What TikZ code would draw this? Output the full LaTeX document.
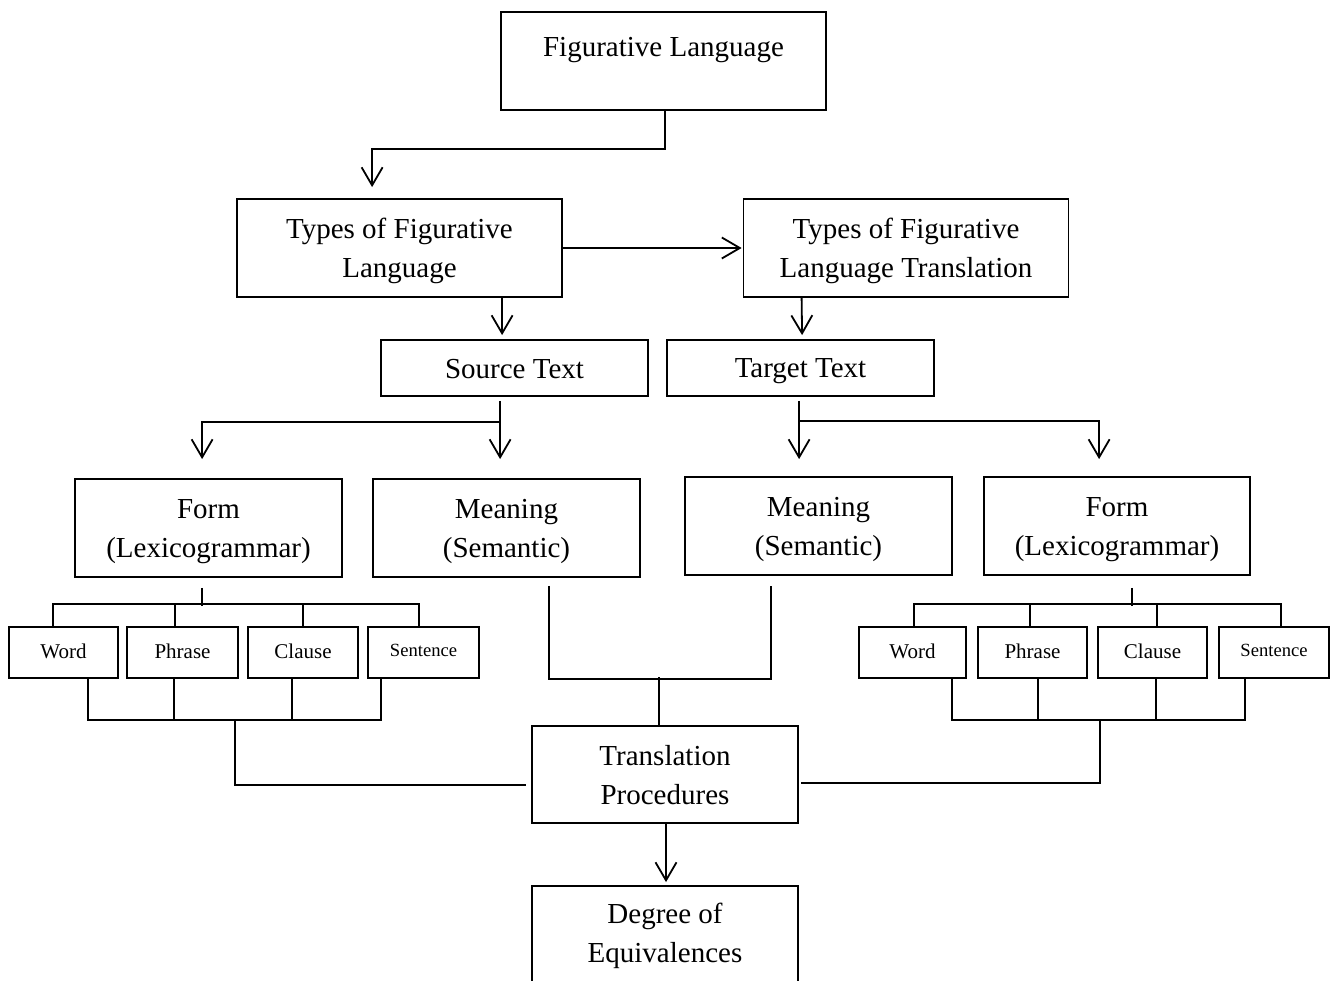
\documentclass[tikz,border=0pt]{standalone}
\usepackage{fontspec}
\setmainfont{Liberation Serif}
\usetikzlibrary{arrows.meta,calc}
\newcommand\bigtxt{\fontsize{29}{39}\selectfont}
\newcommand\smtxt{\fontsize{21}{25}\selectfont}
\newcommand\smmtxt{\fontsize{18.6}{22}\selectfont}
\tikzset{
  box/.style={draw, line width=1.8pt, inner sep=0pt},
  bigbox/.style={box, minimum width=325pt, minimum height=98pt},
  midbox/.style={box, minimum width=267pt, minimum height=98pt},
  stbox/.style={box, minimum width=267pt, minimum height=56pt},
  smbox/.style={box, minimum height=51pt},
  txt/.style={inner sep=0pt, align=center, font=\bigtxt},
  stxt/.style={inner sep=0pt, align=center, font=\smtxt},
  sstxt/.style={inner sep=0pt, align=center, font=\smmtxt},
  conn/.style={line width=1.8pt},
  arr/.style={conn, -{Straight Barb[length=18pt,width=21pt]}}
}
\begin{document}
\begin{tikzpicture}[x=1pt,y=-1pt]
\useasboundingbox (0,0) rectangle (1338,981);
\clip (0,0) rectangle (1338,981);
% boxes
\node[bigbox] (fl) at (663.5,61) {};
\node[txt] (flt) at (663.5,50) {Figurative Language};
\node[bigbox, label={[txt,name=tflx,yshift=-2.5pt]center:Types of Figurative\\Language}] (tfl) at (399.5,248) {};
\node[bigbox, label={[txt,name=tfltx,yshift=-2.5pt]center:Types of Figurative\\Language Translation}] (tflt) at (906,248) {};
\node[stbox, label={[txt,name=stx,yshift=-1pt]center:Source Text}] (st) at (514.5,368) {};
\node[stbox, label={[txt,name=ttx,yshift=-3pt]center:Target Text}] (tt) at (800.5,368) {};
\node[midbox, label={[txt,name=fLx,yshift=-4pt]center:Form\\(Lexicogrammar)}] (fL) at (208.5,528) {};
\node[midbox, label={[txt,name=mLx,yshift=-3pt]center:Meaning\\(Semantic)}] (mL) at (506.5,528) {};
\node[midbox, label={[txt,name=mRx,yshift=-3pt]center:Meaning\\(Semantic)}] (mR) at (818.5,526) {};
\node[midbox, minimum width=266pt, label={[txt,name=fRx,yshift=-4pt]center:Form\\(Lexicogrammar)}] (fR) at (1117,526) {};
\node[smbox, minimum width=109pt, label={[stxt,name=wLx,yshift=1pt]center:Word}] (wL) at (63.5,652.5) {};
\node[smbox, minimum width=111pt, label={[stxt,name=pLx,yshift=1pt]center:Phrase}] (pL) at (182.5,652.5) {};
\node[smbox, minimum width=110pt, label={[stxt,name=cLx,yshift=1pt]center:Clause}] (cL) at (303,652.5) {};
\node[smbox, minimum width=111pt, label={[sstxt,name=sLx,yshift=2.5pt]center:Sentence}] (sL) at (423.5,652.5) {};
\node[smbox, minimum width=107pt, label={[stxt,name=wRx,yshift=1pt]center:Word}] (wR) at (912.5,652.5) {};
\node[smbox, minimum width=109pt, label={[stxt,name=pRx,yshift=1pt]center:Phrase}] (pR) at (1032.5,652.5) {};
\node[smbox, minimum width=109pt, label={[stxt,name=cRx,yshift=1pt]center:Clause}] (cR) at (1152.5,652.5) {};
\node[smbox, minimum width=110pt, label={[sstxt,name=sRx,yshift=2.5pt]center:Sentence}] (sR) at (1274,652.5) {};
\node[box, minimum width=266pt, minimum height=97pt, label={[txt,name=tpx,yshift=-0.5pt]center:Translation\\Procedures}] (tp) at (665,774.5) {};
\node[box, minimum width=266pt, minimum height=130pt] (dg) at (665,951) {};
\node[txt] (dgt) at (665,935.5) {Degree of\\Equivalences};
% top connectors
\draw[arr] ($(fl.south)+(1.5,0)$) -- ++(0,38) -| ($(tfl.north west)+(136,-11)$);
\draw[arr] (tfl.east) -- ($(tflt.west)+(-1,0)$);
\draw[arr] ($(tfl.south west)+(266,0)$) -- ($(st.north west)+(122,-4)$);
\draw[arr] ($(tflt.south west)+(59,0)$) -- ($(tt.north west)+(136,-4)$);
% source text split
\draw[arr] ($(st.south west)+(120,4)$) -- ($(mL.north west)+(128,-19)$);
\draw[arr] ($(st.south west)+(120,25)$) -| ($(fL.north west)+(128,-19)$);
% target text split
\draw[arr] ($(tt.south west)+(133,4)$) -- ($(mR.north west)+(115,-17)$);
\draw[arr] ($(tt.south west)+(133,24)$) -| ($(fR.north west)+(116,-17)$);
% left form to units
\draw[conn] ($(fL.south west)+(128,10)$) -- ++(0,18);
\draw[conn] ($(wL.north west)+(45,0)$) |- ($(sL.north west)+(52,-22)$) -- ($(sL.north west)+(52,0)$);
\draw[conn] ($(pL.north west)+(49,0)$) -- ++(0,-22);
\draw[conn] ($(cL.north west)+(56,0)$) -- ++(0,-22);
% left units to procedures
\draw[conn] ($(wL.south west)+(80,0)$) |- ($(sL.south west)+(14,41)$) -- ($(sL.south west)+(14,0)$);
\draw[conn] ($(pL.south west)+(48,0)$) -- ++(0,41);
\draw[conn] ($(cL.south west)+(45,0)$) -- ++(0,41);
\draw[conn] ($(cL.south west)+(-12,41)$) |- ($(tp.west)+(-5,10.5)$);
% right form to units
\draw[conn] ($(fR.south west)+(149,12)$) -- ++(0,18);
\draw[conn] ($(wR.north west)+(56,0)$) |- ($(sR.north west)+(63,-22)$) -- ($(sR.north west)+(63,0)$);
\draw[conn] ($(pR.north west)+(53,0)$) -- ++(0,-22);
\draw[conn] ($(cR.north west)+(60,0)$) -- ++(0,-22);
% right units to procedures
\draw[conn] ($(wR.south west)+(94,0)$) |- ($(sR.south west)+(27,41)$) -- ($(sR.south west)+(27,0)$);
\draw[conn] ($(pR.south west)+(61,0)$) -- ++(0,41);
\draw[conn] ($(cR.south west)+(59,0)$) -- ++(0,41);
\draw[conn] ($(cR.south west)+(3,41)$) |- ($(tp.east)+(2,8.5)$);
% meanings to procedures
\draw[conn] ($(mL.south west)+(177,8)$) |- ($(mR.south west)+(87,103)$) -- ($(mR.south west)+(87,10)$);
\draw[conn] ($(tp.north)+(-6,-48)$) -- ($(tp.north)+(-6,0)$);
% procedures to degree
\draw[arr] ($(tp.south)+(1,0)$) -- ($(dg.north)+(1,-3)$);
\end{tikzpicture}
\end{document}
